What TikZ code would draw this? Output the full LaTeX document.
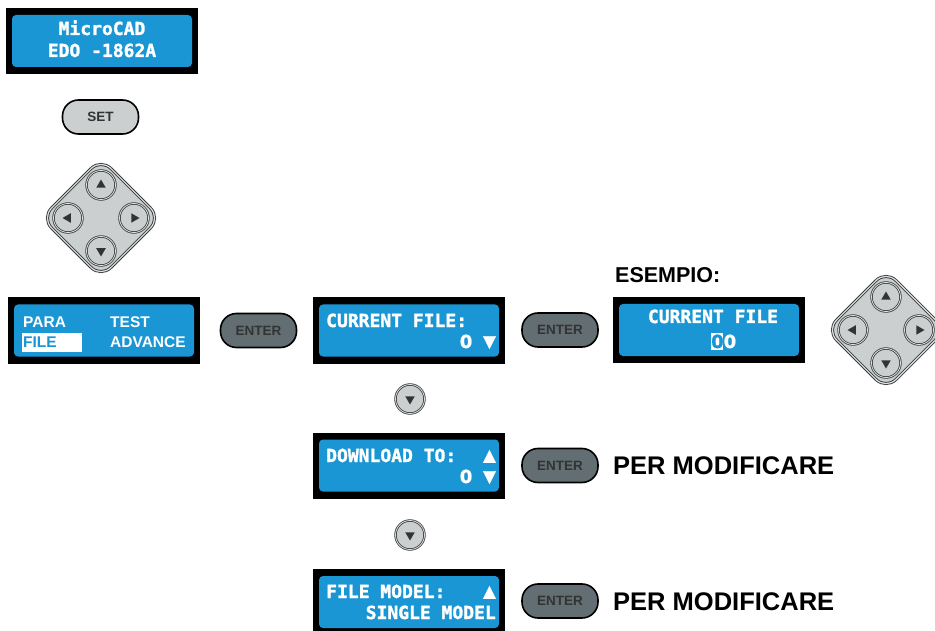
\documentclass[tikz,border=0pt]{standalone}
\usepackage{fontspec}
\setmainfont{Liberation Sans}
\newfontfamily\lcdfont[BoldFeatures={FakeBold=1.6}]{DejaVu Sans Mono}
\newfontfamily\lcdnum[BoldFeatures={FakeBold=1.2}]{DejaVu Sans}
\usepackage{tikz}
\usetikzlibrary{shapes.geometric, positioning}
\usepackage{xcolor}
\definecolor{lcdblue}{RGB}{27,150,212}
\definecolor{keygrey}{RGB}{204,207,207}
\definecolor{entergrey}{RGB}{98,110,114}
\definecolor{rimgrey}{RGB}{55,60,62}
\newcommand{\zero}{{\lcdnum 0}}
\newcommand{\bigtri}[1]{{\fontsize{21}{18}\selectfont #1}}

\begin{document}
\begin{tikzpicture}[
  x=1pt, y=-1pt,
  lcd/.style={rectangle, fill=black, minimum width=192pt, minimum height=66pt, inner sep=0pt},
  screen/.style={rectangle, rounded corners=4pt, fill=lcdblue, minimum width=180pt, minimum height=52pt, inner sep=0pt},
  lcdtext/.style={font=\lcdfont\bfseries\fontsize{18}{18}\selectfont, text=white, inner sep=0pt},
  menutext/.style={font=\bfseries\fontsize{15.5}{15.5}\selectfont, text=white, inner sep=0pt},
  cursor/.style={rectangle, fill=white, inner sep=0pt},
  pill/.style={rectangle, rounded corners=16pt, draw=black, line width=1.6pt, minimum width=76pt, minimum height=34pt, font=\bfseries\fontsize{13.5}{13.5}\selectfont},
  setkey/.style={pill, fill=keygrey, text=black!80},
  enterkey/.style={pill, fill=entergrey, text=black!80},
  padbase/.style={rectangle, rounded corners=14pt, rotate=45, minimum size=84pt, fill=keygrey, draw=rimgrey, double=keygrey!60, double distance=1.2pt, line width=0.9pt},
  arrowkey/.style={circle, minimum size=29pt, inner sep=0pt, fill=keygrey, draw=rimgrey, double=keygrey!60, double distance=0.8pt, line width=0.8pt},
  keytri/.style={regular polygon, regular polygon sides=3, fill=black!80, inner sep=0pt, minimum size=11pt},
  bigtext/.style={font=\bfseries\fontsize{25.5}{25.5}\selectfont, inner sep=0pt},
]
\useasboundingbox (0,0) rectangle (935,631);

% start screen
\node[lcd] (boot) at (102,41) {};
\node[screen] at (boot) {};
\node[lcdtext, anchor=base] (model) at (102,35) {MicroCAD};
\node[lcdtext, anchor=base] (code) at (102,57) {EDO -1862A};

\node[setkey] (set) at (100.5,117) {SET};

% arrow pads
\foreach \pad/\px/\py/\d in {padA/101/218/33, padB/886/330/33} {
  \node[padbase] (\pad) at (\px,\py) {};
  \foreach \dir/\dx/\dy/\rot in {up/0/-1/0, down/0/1/180, left/-1/0/90, right/1/0/270} {
    \node[arrowkey] (\pad-\dir) at (\px+\dx*\d, \py+\dy*\d) {};
    \node[keytri, shape border rotate=\rot] at (\pad-\dir) {};
  }
}

% main menu
\node[lcd] (menu) at (104,330.5) {};
\node[screen] at (menu) {};
\node[menutext, anchor=base west] (para) at (23,327) {PARA};
\node[menutext, anchor=base west] (test) at (110,327) {TEST};
\node[cursor, minimum width=60pt, minimum height=19pt, anchor=west] (filehl) at (22,342) {};
\node[menutext, text=lcdblue, anchor=base west] (file) at (23,347.5) {FILE};
\node[menutext, anchor=base west] (advance) at (110,347.5) {ADVANCE};

\node[enterkey] (enterA) at (258.5,330.5) {ENTER};

% current file
\node[lcd] (current) at (409,330.5) {};
\node[screen] at (current) {};
\node[lcdtext, anchor=base west] at (326,327) {CURRENT FILE:};
\node[lcdtext, anchor=base east] at (496,348) {\zero\ \bigtri{▼}};

\node[enterkey] (enterB) at (560,330) {ENTER};

% example
\node[bigtext, font=\bfseries\fontsize{21.5}{21.5}\selectfont, anchor=base west] (esempio) at (615,283) {ESEMPIO:};
\node[lcd] (example) at (709,330) {};
\node[screen] at (example) {};
\node[lcdtext, anchor=base] at (713,323) {CURRENT FILE};
\node[cursor, minimum width=11.5pt, minimum height=17pt, anchor=north west] (digithl) at (711,333) {};
\node[lcdtext, anchor=base west] at (711,348) {{\color{lcdblue}\zero}\zero};

\node[arrowkey] (downA) at (410,399) {};
\node[keytri, shape border rotate=180] at (downA) {};

% download to
\node[lcd] (download) at (409,465.5) {};
\node[screen] at (download) {};
\node[lcdtext, anchor=base west] at (326,462) {DOWNLOAD TO:};
\node[lcdtext, anchor=base east] at (496,462) {\bigtri{▲}};
\node[lcdtext, anchor=base east] at (496,483) {\zero\ \bigtri{▼}};

\node[enterkey] (enterC) at (560,465.5) {ENTER};
\node[bigtext, anchor=base west] (modA) at (613,474) {PER MODIFICARE};

\node[arrowkey] (downB) at (410,535) {};
\node[keytri, shape border rotate=180] at (downB) {};

% file model
\node[lcd] (filemodel) at (409,602) {};
\node[screen] at (filemodel) {};
\node[lcdtext, anchor=base west] at (326,598) {FILE MODEL:};
\node[lcdtext, anchor=base east] at (496,598) {\bigtri{▲}};
\node[lcdtext, anchor=base east] at (496,619) {SINGLE MODEL};

\node[enterkey] (enterD) at (560,601) {ENTER};
\node[bigtext, anchor=base west] (modB) at (613,610) {PER MODIFICARE};
\end{tikzpicture}
\end{document}
